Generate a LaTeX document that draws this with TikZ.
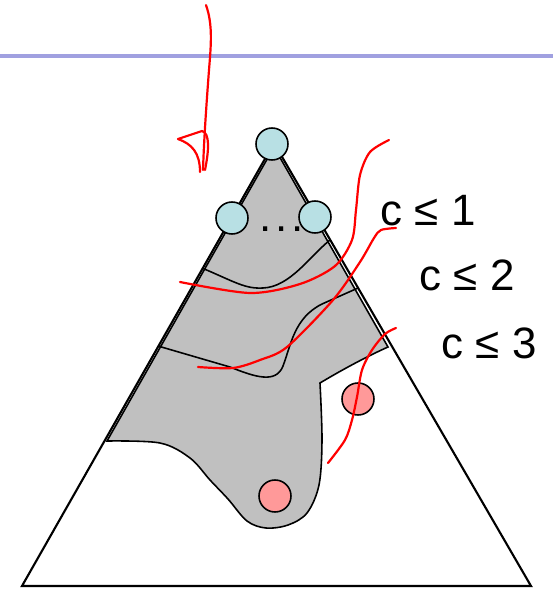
\documentclass[tikz,border=0pt]{standalone}
\usepackage{fontspec}
\setmainfont{Liberation Sans}

\definecolor{lightteal}{RGB}{184,224,228}
\definecolor{lightred}{RGB}{255,153,153}
\definecolor{shade}{RGB}{192,192,192}
\definecolor{rulecol}{RGB}{160,160,224}

\tikzset{
  leaf/.style={circle,draw,line width=0.9pt,minimum size=0.64cm,inner sep=0pt},
  bound/.style={font=\fontsize{25}{30}\selectfont,inner sep=0pt},
  ink/.style={red,line width=1.25pt,line cap=round,line join=round},
}

\begin{document}
\begin{tikzpicture}[x=0.02cm,y=-0.02cm]

  \useasboundingbox (0,0) rectangle (553,589);

  \draw[rulecol,line width=1.8pt] (0,56) -- (553,56);

  \filldraw[fill=shade,line width=0.9pt]
    plot[smooth,tension=0.55] coordinates {(107,441) (160,443) (190,458) (210,480)
      (228,499) (247,521) (266,528) (288,525) (307,513) (319,485) (322,440) (320,383)}
    .. controls (345,368) and (370,355) .. (388,347) -- (274,147) -- cycle;

  \draw[line width=0.9pt] (202,268) .. controls (235,282) and (245,289) .. (263,288)
    .. controls (290,287) and (310,256) .. (330,240);
  \draw[line width=0.9pt] (158,346) -- (230,367) .. controls (255,377) and (276,384) .. (283,366)
    .. controls (291,345) and (294,318) .. (322,304) -- (358,288);

  \draw[line width=1.2pt] (274,143) -- (22,586) -- (531,586) -- cycle;

  \node[leaf,fill=lightteal] (t1) at (272,144) {};
  \node[leaf,fill=lightteal] (t2) at (232,218) {};
  \node[leaf,fill=lightteal] (t3) at (315,217) {};
  \node[leaf,fill=lightred] (r1) at (358,399) {};
  \node[leaf,fill=lightred] (r2) at (275,496) {};

  \node[bound] (dots) at (282,229) {.\kern2.2pt.\kern2.2pt.};

  \node[bound] (c1) at (428,211) {c ≤ 1};
  \node[bound] (c2) at (467,275) {c ≤ 2};
  \node[bound] (c3) at (489,343) {c ≤ 3};

  % pen strokes
  \draw[ink] (206,5) .. controls (213,25) and (211,45) .. (209,70)
    .. controls (206,110) and (204,140) .. (203,170);
  \draw[ink] (178,139) -- (202,131) .. controls (210,133) and (209,150) .. (205,170);
  \draw[ink] (178,139) .. controls (192,144) and (200,153) .. (200,172);

  \draw[ink] plot[smooth] coordinates {(389,140) (370,152) (360,175) (356,210)
    (352,240) (335,266) (300,284) (250,293) (180,282)};
  \draw[ink] plot[smooth] coordinates {(396,228) (381,230) (374,238) (360,262)
    (333,300) (287,347) (260,360) (233,368) (198,367)};
  \draw[ink] plot[smooth] coordinates {(396,328) (385,334) (372,350) (362,370)
    (357,397) (352,420) (345,440) (328,463)};

\end{tikzpicture}
\end{document}
